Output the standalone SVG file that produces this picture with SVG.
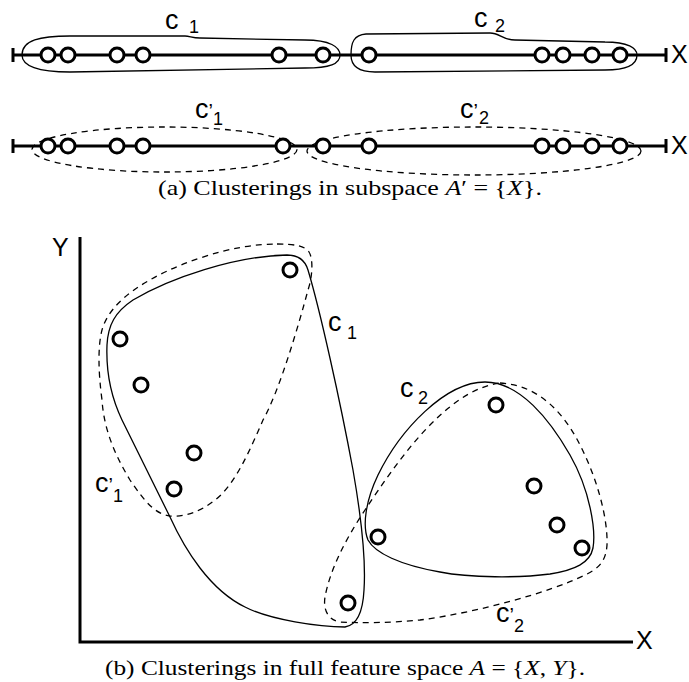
<svg xmlns="http://www.w3.org/2000/svg" width="689" height="682" viewBox="0 0 689 682">
<style>
.ax{stroke:#000;stroke-width:3;fill:none}
.pt{fill:#fff;stroke:#000;stroke-width:3}
.cl{fill:none;stroke:#000;stroke-width:1.3}
.cd{fill:none;stroke:#000;stroke-width:1.3;stroke-dasharray:6 5}
.lb{font-family:"Liberation Sans",Arial,sans-serif;font-size:27px;fill:#000}
.ax-l{font-family:"Liberation Sans",Arial,sans-serif;font-size:25px;fill:#000}
.sb{font-family:"Liberation Sans",Arial,sans-serif;font-size:18px;fill:#000}
.pr{font-size:20px}
.cap{font-family:"Liberation Serif","Times New Roman",serif;font-size:21px;fill:#000}
</style>
<rect width="689" height="682" fill="#fff"/>
<defs>
<circle id="p" r="7" class="pt"/>
</defs>
<g id="axis-a1">
<path class="ax" d="M13,55 H666 M13,48 V62 M666,48 V62"/>
<text class="ax-l" x="671" y="63">X</text>
</g>
<g id="axis-a2">
<path class="ax" d="M13,146 H666 M13,139 V153 M666,139 V153"/>
<text class="ax-l" x="671" y="154">X</text>
</g>
<g id="clusters-a">
<path id="c1-a" class="cl" d="M22,55 C22,40 40,36 70,36 L185,36 C190,36 192,38 200,38 L305,40 C330,40 340,47 340,55 C340,64 330,68 305,68 L70,72 C38,72 22,66 22,55 Z"/>
<path id="c2-a" class="cl" d="M351,55 C351,42 354,35 366,34 L490,33 C500,33 502,40 515,40 L605,42 C628,42 637,48 637,55 C637,64 628,70 605,70 L375,72 C358,72 351,66 351,55 Z"/>
<ellipse id="c1p-a" class="cd" cx="164.5" cy="149.5" rx="132.5" ry="22.5"/>
<ellipse id="c2p-a" class="cd" cx="474" cy="151" rx="167" ry="24"/>
</g>
<g id="points-a1">
<use href="#p" x="48" y="55"/><use href="#p" x="68" y="55"/><use href="#p" x="117" y="55"/><use href="#p" x="143" y="55"/><use href="#p" x="279" y="55"/><use href="#p" x="323" y="55"/><use href="#p" x="369" y="55"/><use href="#p" x="542" y="55"/><use href="#p" x="563" y="55"/><use href="#p" x="592" y="55"/><use href="#p" x="620" y="55"/>
</g>
<g id="points-a2">
<use href="#p" x="48" y="146"/><use href="#p" x="68" y="146"/><use href="#p" x="117" y="146"/><use href="#p" x="143" y="146"/><use href="#p" x="283" y="146"/><use href="#p" x="323" y="146"/><use href="#p" x="369" y="146"/><use href="#p" x="542" y="146"/><use href="#p" x="563" y="146"/><use href="#p" x="592" y="146"/><use href="#p" x="620" y="146"/>
</g>
<g id="labels-a">
<text class="lb" x="165" y="29">c</text><text class="sb" x="189" y="33">1</text>
<text class="lb" x="474" y="27">c</text><text class="sb" x="495" y="32">2</text>
<text class="lb" x="195" y="118">c<tspan class="pr">’</tspan></text><text class="sb" x="213" y="125">1</text>
<text class="lb" x="460" y="118">c<tspan class="pr">’</tspan></text><text class="sb" x="479" y="124">2</text>
</g>
<text id="caption-a" class="cap" x="158" y="195" textLength="384" lengthAdjust="spacingAndGlyphs">(a) Clusterings in subspace <tspan font-style="italic">A</tspan>′ = {<tspan font-style="italic">X</tspan>}.</text>
<g id="axes-b">
<path class="ax" d="M80,237 V642 H633"/>
<text class="ax-l" x="52" y="256">Y</text>
<text class="ax-l" x="636" y="649">X</text>
</g>
<g id="clusters-b">
<path id="c1-b" class="cl" d="M287,255 C298,255 305,260 308,270 C320,310 340,400 353,470 C360,510 366,560 364,590 C363,610 358,625 345,627 C320,627 270,620 245,607 C210,590 185,550 170,517 L122,420 C110,395 106,370 107,345 C108,325 115,312 133,300 C170,278 235,256 287,255 Z"/>
<path id="c1p-b" class="cd" d="M277,244 C295,244 305,246 309,252 C313,258 313,275 308,290 C300,320 280,390 263,420 C250,450 235,485 215,500 C200,512 185,517 170,516 C155,514 145,502 130,480 C115,455 104,430 102,400 C98,370 98,345 102,330 C110,300 150,275 200,258 C230,248 255,244 277,244 Z"/>
<path id="c2-b" class="cl" d="M485,382 C520,382 550,420 570,455 C590,490 596,530 593,548 C590,563 575,570 550,574 C520,578 470,578 440,572 C400,565 375,553 368,540 C362,525 366,500 378,475 C400,430 445,382 485,382 Z"/>
<path id="c2p-b" class="cd" d="M500,383 C540,385 565,415 580,445 C598,480 608,520 607,545 C606,560 600,568 585,575 C550,592 480,612 420,620 C390,623 360,623 340,622 C328,620 323,610 325,597 C330,570 345,540 365,510 C395,465 445,390 500,383 Z"/>
</g>
<g id="points-b">
<use href="#p" x="290" y="270"/><use href="#p" x="120" y="339"/><use href="#p" x="141" y="385"/><use href="#p" x="194" y="453"/><use href="#p" x="174" y="489"/><use href="#p" x="348" y="603"/><use href="#p" x="378" y="537"/><use href="#p" x="496" y="405"/><use href="#p" x="534" y="486"/><use href="#p" x="557" y="525"/><use href="#p" x="582" y="548"/>
</g>
<g id="labels-b">
<text class="lb" x="328" y="331">c</text><text class="sb" x="347" y="339">1</text>
<text class="lb" x="400" y="397">c</text><text class="sb" x="418" y="404">2</text>
<text class="lb" x="95" y="492">c<tspan class="pr">’</tspan></text><text class="sb" x="113" y="502">1</text>
<text class="lb" x="496" y="622">c<tspan class="pr">’</tspan></text><text class="sb" x="514" y="632">2</text>
</g>
<text id="caption-b" class="cap" x="105" y="675" textLength="480" lengthAdjust="spacingAndGlyphs">(b) Clusterings in full feature space <tspan font-style="italic">A</tspan> = {<tspan font-style="italic">X</tspan>, <tspan font-style="italic">Y</tspan>}.</text>
</svg>
